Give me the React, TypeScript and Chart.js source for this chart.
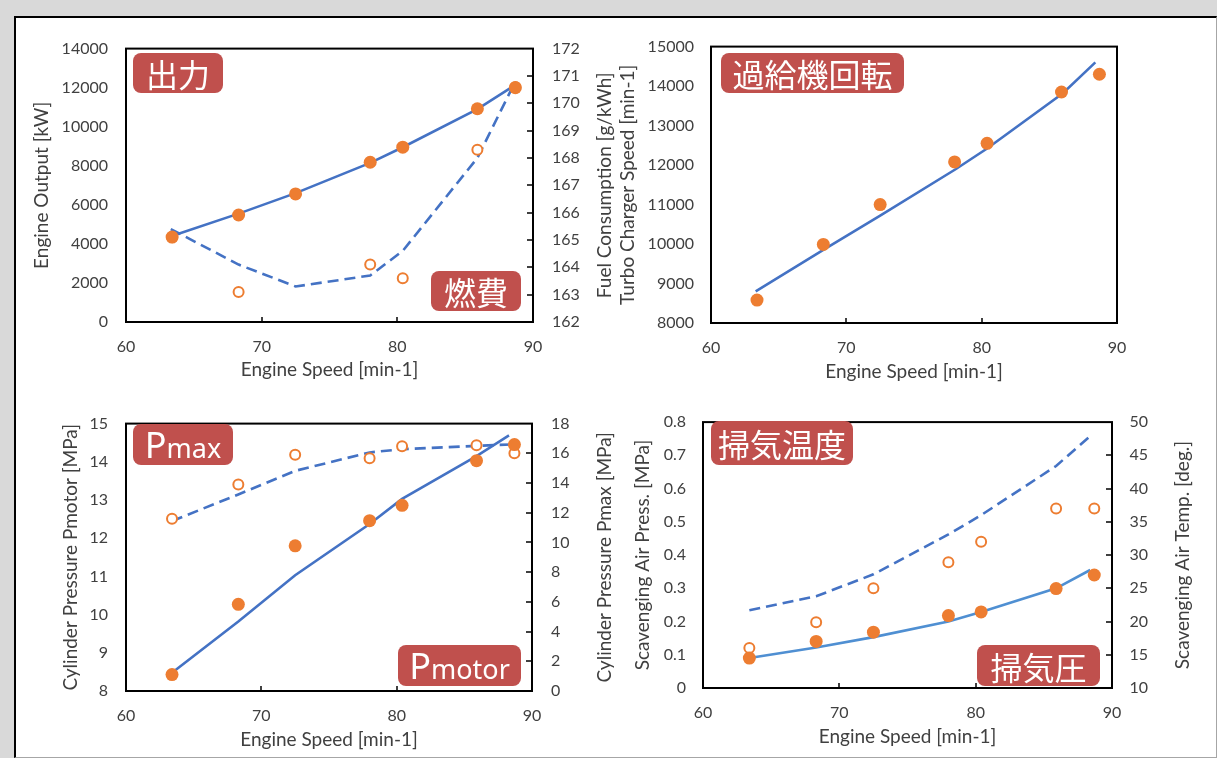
import React, { useEffect, useRef } from 'react';
import { Chart, registerables } from 'chart.js';

Chart.register(...registerables);

// ---------- data ----------
const speeds = [63.4, 68.3, 72.5, 78.0, 80.4, 85.9, 88.7];
const speedTicks = [60, 70, 80, 90];

const engineOutput = [4350, 5480, 6560, 8180, 8950, 10920, 12000];
const outputModelX = [63.6, 68.3, 72.5, 78.0, 80.4, 85.9, 88.5];
const outputModel = [4450, 5550, 6600, 8150, 8950, 10900, 12050];
const outputTicks = [0, 2000, 4000, 6000, 8000, 10000, 12000, 14000];

const fuelMeasured = [165.1, 163.1, null, 164.1, 163.6, 168.3, 170.6];
const fuelModelX = [63.3, 68.3, 72.5, 78.0, 80.4, 85.9, 88.5];
const fuelModel = [165.4, 164.1, 163.3, 163.7, 164.6, 168.0, 170.6];
const fuelTicks = [162, 163, 164, 165, 166, 167, 168, 169, 170, 171, 172];

const tcSpeed = [8580, 9990, 11000, 12080, 12550, 13850, 14300];
const tcModelX = [63.3, 68.3, 72.5, 78.1, 80.4, 86.0, 88.4];
const tcModel = [8800, 9850, 10720, 11900, 12420, 13820, 14600];
const tcTicks = [8000, 9000, 10000, 11000, 12000, 13000, 14000, 15000];

const pMotor = [8.43, 10.27, 11.8, 12.46, 12.86, 14.03, 14.45];
const pMotorModelX = [63.4, 68.3, 72.5, 78.0, 80.4, 85.9, 88.3];
const pMotorModel = [8.48, 9.82, 11.03, 12.37, 13.03, 14.15, 14.69];
const pMotorTicks = [8, 9, 10, 11, 12, 13, 14, 15];

const pMax = [11.6, 13.9, 15.9, 15.66, 16.48, 16.54, 16.0];
const pMaxModelX = [63.4, 68.3, 72.5, 78.0, 80.4, 85.9, 88.5];
const pMaxModel = [11.44, 13.23, 14.82, 16.06, 16.28, 16.5, 16.6];
const pMaxTicks = [0, 2, 4, 6, 8, 10, 12, 14, 16, 18];

const scavPress = [0.09, 0.14, 0.168, 0.218, 0.229, 0.299, 0.34];
const scavPressModelX = [63.4, 68.3, 72.5, 78.0, 80.4, 85.9, 88.4];
const scavPressModel = [0.09, 0.122, 0.153, 0.2, 0.229, 0.3, 0.355];
const scavPressTicks = [0, 0.1, 0.2, 0.3, 0.4, 0.5, 0.6, 0.7, 0.8];

const scavTemp = [16.0, 19.9, 25.0, 28.9, 32.0, 37.0, 37.0];
const scavTempModelX = [63.4, 68.3, 72.5, 78.0, 80.4, 85.9, 88.4];
const scavTempModel = [21.7, 23.8, 27.1, 33.1, 36.0, 43.4, 47.9];
const scavTempTicks = [10, 15, 20, 25, 30, 35, 40, 45, 50];

// ---------- styles ----------
const TXT = '#404040';
const BLUE = '#4472c4';
const BLUE2 = '#4f8fd2';
const ORANGE = '#ed7d31';
const RED = '#c0504d';
const FONT = 'Lato';
const tickFont = { family: FONT, size: 16 };
const titleFont = { family: FONT, size: 19 };

const pts = (xs: number[], ys: (number | null)[]) =>
  xs.map((x, i) => ({ x, y: ys[i] })).filter((p) => p.y !== null);

const filledDs = (xs: number[], ys: (number | null)[], axis: string) => ({
  data: pts(xs, ys),
  yAxisID: axis,
  showLine: false,
  pointRadius: 6.5,
  pointHoverRadius: 6.5,
  pointBackgroundColor: ORANGE,
  pointBorderColor: ORANGE,
  pointBorderWidth: 0,
  clip: false,
});

const openDs = (xs: number[], ys: (number | null)[], axis: string) => ({
  data: pts(xs, ys),
  yAxisID: axis,
  showLine: false,
  pointRadius: 5,
  pointHoverRadius: 5,
  pointBackgroundColor: '#ffffff',
  pointBorderColor: ORANGE,
  pointBorderWidth: 2,
  clip: false,
});

const lineDs = (xs: number[], ys: number[], axis: string, color: string, dashed: boolean) => ({
  data: pts(xs, ys),
  yAxisID: axis,
  showLine: true,
  pointRadius: 0,
  pointHoverRadius: 0,
  borderColor: color,
  backgroundColor: color,
  borderWidth: 2.6,
  borderDash: dashed ? [11, 6] : [],
  tension: 0,
  fill: false,
  clip: false,
});

const fmt = (v: any) => String(Math.round(Number(v) * 1000) / 1000);

const framePlugin = {
  id: 'frame',
  beforeDatasetsDraw(chart: any) {
    const { ctx, chartArea: a } = chart;
    ctx.save();
    ctx.strokeStyle = '#000';
    ctx.lineWidth = 2;
    ctx.strokeRect(a.left, a.top, a.right - a.left, a.bottom - a.top);
    ctx.lineWidth = 1.5;
    const xs = chart.scales.x;
    xs.ticks.forEach((t: any) => {
      if (t.value > xs.min && t.value < xs.max) {
        const px = Math.round(xs.getPixelForValue(t.value));
        ctx.beginPath();
        ctx.moveTo(px, a.bottom);
        ctx.lineTo(px, a.bottom - 5);
        ctx.stroke();
      }
    });
    const y1 = chart.scales.y1;
    if (y1) {
      y1.ticks.forEach((t: any) => {
        if (t.value > y1.min && t.value < y1.max) {
          const py = Math.round(y1.getPixelForValue(t.value));
          ctx.beginPath();
          ctx.moveTo(a.right, py);
          ctx.lineTo(a.right - 6, py);
          ctx.stroke();
        }
      });
    }
    ctx.restore();
  },
};

const rightTitlePlugin = {
  id: 'rightTitle',
  afterDraw(chart: any, _args: any, opts: any) {
    if (!opts || !opts.text) return;
    const { ctx, chartArea: a } = chart;
    ctx.save();
    ctx.translate(chart.width - opts.fromRight, (a.top + a.bottom) / 2);
    ctx.rotate(-Math.PI / 2);
    ctx.textAlign = 'center';
    ctx.textBaseline = 'middle';
    ctx.font = `${titleFont.size}px ${FONT}`;
    ctx.fillStyle = TXT;
    ctx.fillText(opts.text, 0, 0);
    ctx.restore();
  },
};

function axis(values: number[], pad: number, position: string) {
  return {
    type: 'linear',
    position,
    min: values[0],
    max: values[values.length - 1],
    afterBuildTicks: (s: any) => {
      s.ticks = values.map((v) => ({ value: v }));
    },
    grid: { display: false, drawTicks: false },
    border: { display: false },
    ticks: {
      font: tickFont,
      color: TXT,
      padding: pad,
      autoSkip: false,
      maxRotation: 0,
      minRotation: 0,
      callback: fmt,
    },
  };
}

function makeConfig(spec: any) {
  const scales: any = {
    x: {
      ...axis(speedTicks, 15, 'bottom'),
      title: {
        display: true,
        text: 'Engine Speed [min-1]',
        font: titleFont,
        color: TXT,
        padding: { top: 0, bottom: spec.xTitlePad },
      },
      afterFit: (s: any) => {
        s.height = spec.xH;
      },
    },
    y: {
      ...axis(spec.yTicks, spec.yPad, 'left'),
      title: {
        display: true,
        text: spec.yTitle,
        font: titleFont,
        color: TXT,
        padding: { top: spec.yTitlePad, bottom: 0 },
      },
      afterFit: (s: any) => {
        s.width = spec.leftW;
      },
    },
  };
  if (spec.y1Ticks) {
    scales.y1 = {
      ...axis(spec.y1Ticks, spec.y1Pad, 'right'),
      afterFit: (s: any) => {
        s.width = spec.rightW;
      },
    };
  }
  return {
    type: 'scatter',
    data: { datasets: spec.datasets },
    options: {
      responsive: false,
      maintainAspectRatio: false,
      animation: false,
      devicePixelRatio: 1,
      events: [],
      layout: {
        autoPadding: false,
        padding: { top: spec.padTop, right: spec.padRight || 0, left: 0, bottom: 0 },
      },
      plugins: {
        legend: { display: false },
        tooltip: { enabled: false },
        rightTitle: { text: spec.rightTitle, fromRight: spec.rightTitleFromRight },
      },
      scales,
    },
    plugins: [framePlugin, rightTitlePlugin],
  };
}

const cfgOutput = () =>
  makeConfig({
    datasets: [
      filledDs(speeds, engineOutput, 'y'),
      openDs(speeds, fuelMeasured, 'y1'),
      lineDs(outputModelX, outputModel, 'y', BLUE, false),
      lineDs(fuelModelX, fuelModel, 'y1', BLUE, true),
    ],
    yTicks: outputTicks,
    y1Ticks: fuelTicks,
    yTitle: 'Engine Output [kW]',
    rightTitle: 'Fuel Consumption [g/kWh]',
    rightTitleFromRight: 15,
    yPad: 18,
    y1Pad: 19,
    leftW: 106,
    rightW: 87,
    xH: 68,
    padTop: 23,
    yTitlePad: 10.6,
    xTitlePad: 8.6,
  });

const cfgTurbo = () =>
  makeConfig({
    datasets: [filledDs(speeds, tcSpeed, 'y'), lineDs(tcModelX, tcModel, 'y', BLUE, false)],
    yTicks: tcTicks,
    yTitle: 'Turbo Charger Speed [min-1]',
    yPad: 17,
    leftW: 96,
    padRight: 83,
    xH: 67,
    padTop: 24,
    yTitlePad: 1.1,
    xTitlePad: 6.6,
  });

const cfgPressure = () =>
  makeConfig({
    datasets: [
      filledDs(speeds, pMotor, 'y'),
      openDs(speeds, pMax, 'y1'),
      lineDs(pMotorModelX, pMotorModel, 'y', BLUE, false),
      lineDs(pMaxModelX, pMaxModel, 'y1', BLUE, true),
    ],
    yTicks: pMotorTicks,
    y1Ticks: pMaxTicks,
    yTitle: 'Cylinder Pressure Pmotor [MPa]',
    rightTitle: 'Cylinder Pressure Pmax [MPa]',
    rightTitleFromRight: 15,
    yPad: 18,
    y1Pad: 19,
    leftW: 106,
    rightW: 88,
    xH: 64,
    padTop: 17,
    yTitlePad: 39.6,
    xTitlePad: 3.6,
  });

const cfgScav = () =>
  makeConfig({
    datasets: [
      filledDs(speeds, scavPress, 'y'),
      openDs(speeds, scavTemp, 'y1'),
      lineDs(scavPressModelX, scavPressModel, 'y', BLUE2, false),
      lineDs(scavTempModelX, scavTempModel, 'y1', BLUE, true),
    ],
    yTicks: scavPressTicks,
    y1Ticks: scavTempTicks,
    yTitle: 'Scavenging Air Press. [MPa]',
    rightTitle: 'Scavenging Air Temp. [deg.]',
    rightTitleFromRight: 22.5,
    yPad: 17,
    y1Pad: 17.5,
    leftW: 78,
    rightW: 93,
    xH: 67,
    padTop: 14,
    yTitlePad: 6.6,
    xTitlePad: 6.9,
  });

function Badge(props: any) {
  const { left, top, w, h, children, latin } = props;
  return (
    <div
      style={{
        position: 'absolute',
        left,
        top,
        width: w,
        height: h,
        background: RED,
        borderRadius: 8,
        color: '#ffffff',
        display: 'flex',
        alignItems: 'center',
        justifyContent: 'center',
        fontFamily: latin ? '"Noto Sans", sans-serif' : '"Noto Sans CJK JP", sans-serif',
        fontSize: 32,
        lineHeight: 1,
        whiteSpace: 'nowrap',
      }}
    >
      {children}
    </div>
  );
}

export default function App() {
  const r1 = useRef<HTMLCanvasElement>(null);
  const r2 = useRef<HTMLCanvasElement>(null);
  const r3 = useRef<HTMLCanvasElement>(null);
  const r4 = useRef<HTMLCanvasElement>(null);

  useEffect(() => {
    const charts = [
      new Chart(r1.current as any, cfgOutput() as any),
      new Chart(r2.current as any, cfgTurbo() as any),
      new Chart(r3.current as any, cfgPressure() as any),
      new Chart(r4.current as any, cfgScav() as any),
    ];
    return () => charts.forEach((c) => c.destroy());
  }, []);

  const cv = (left: number, top: number): React.CSSProperties => ({
    position: 'absolute',
    left,
    top,
    display: 'block',
  });

  return (
    <div
      style={{
        position: 'fixed',
        left: 0,
        top: 0,
        width: 1217,
        height: 758,
        background: '#d9d9d9',
        overflow: 'hidden',
      }}
    >
      <div
        style={{
          position: 'absolute',
          left: 14,
          top: 16,
          width: 1203,
          height: 742,
          background: '#ffffff',
          borderTop: '2px solid #000',
          borderLeft: '2px solid #000',
          borderRight: '1px solid #a6a6a6',
          borderBottom: '1px solid #a6a6a6',
          boxSizing: 'border-box',
        }}
      />
      <canvas ref={r1} width={600} height={370} style={cv(20, 20)} />
      <canvas ref={r2} width={585} height={370} style={cv(615, 20)} />
      <canvas ref={r3} width={600} height={360} style={cv(20, 395)} />
      <canvas ref={r4} width={580} height={360} style={cv(625, 395)} />

      <Badge left={133} top={53} w={90} h={40}>出力</Badge>
      <Badge left={431} top={271} w={90} h={40}>燃費</Badge>
      <Badge left={721} top={53} w={183} h={40}>過給機回転</Badge>
      <Badge left={133} top={424} w={100} h={41} latin>
        <span>
          <span style={{ fontSize: 36 }}>P</span>
          <span style={{ fontSize: 27 }}>max</span>
        </span>
      </Badge>
      <Badge left={398} top={645} w={123} h={41} latin>
        <span>
          <span style={{ fontSize: 36 }}>P</span>
          <span style={{ fontSize: 27 }}>motor</span>
        </span>
      </Badge>
      <Badge left={711} top={421} w={142} h={44}>掃気温度</Badge>
      <Badge left={977} top={645} w={123} h={41}>掃気圧</Badge>
    </div>
  );
}
